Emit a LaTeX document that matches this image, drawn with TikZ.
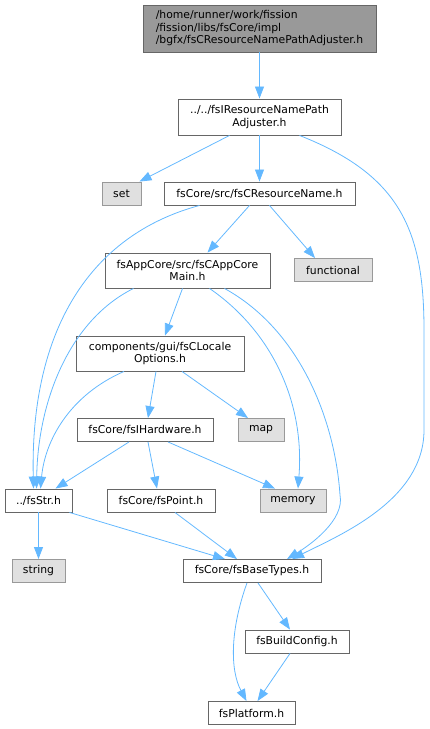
\documentclass[tikz,border=0pt]{standalone}
\usepackage{fontspec}
\setsansfont{DejaVu Sans}
\usetikzlibrary{arrows.meta}

\definecolor{edgeblue}{HTML}{63B8FF}
\definecolor{boxline}{HTML}{666666}
\definecolor{sysline}{HTML}{999999}
\definecolor{sysfill}{HTML}{E0E0E0}
\definecolor{topfill}{HTML}{999999}

\begin{document}
\begin{tikzpicture}[x=1pt, y=-1pt,
    file/.style={draw=boxline, fill=white, line width=0.9pt, inner sep=0pt, minimum height=23, align=center,
                 font=\sffamily\fontsize{10.8}{12.5}\selectfont},
    sysfile/.style={file, draw=sysline, fill=sysfill},
    dep/.style={draw=edgeblue, line width=0.8pt, -{Triangle[length=12pt, width=9pt]}}]
    \useasboundingbox (0,0) rectangle (429,729);

    % files
    \node[file, fill=topfill, minimum width=233, minimum height=47, align=left] (top) at (259.5,28.5)
        {/home/runner/work/fission\\/fission/libs/fsCore/impl\\/bgfx/fsCResourceNamePathAdjuster.h};
    \node[file, minimum width=163, minimum height=36] (adj) at (259.5,117) {../../fsIResourceNamePath\\Adjuster.h};
    \node[sysfile, minimum width=39] (set) at (121.5,193.5) {set};
    \node[file, minimum width=191] (resname) at (259.5,193.5) {fsCore/src/fsCResourceName.h};
    \node[file, minimum width=165, minimum height=35] (main) at (187.5,270.5) {fsAppCore/src/fsCAppCore\\Main.h};
    \node[sysfile, minimum width=78] (functional) at (333,270) {functional};
    \node[file, minimum width=168, minimum height=35] (locale) at (160,353.5) {components/gui/fsCLocale\\Options.h};
    \node[file, minimum width=136] (hw) at (145,430) {fsCore/fsIHardware.h};
    \node[sysfile, minimum width=46] (map) at (261,430) {map};
    \node[file, minimum width=67] (str) at (38.5,500.5) {../fsStr.h};
    \node[file, minimum width=108] (point) at (161,500.5) {fsCore/fsPoint.h};
    \node[sysfile, minimum width=66] (memory) at (293,500.5) {memory};
    \node[sysfile, minimum width=53] (string) at (38.5,571) {string};
    \node[file, minimum width=138] (base) at (252,571) {fsCore/fsBaseTypes.h};
    \node[file, minimum width=104] (build) at (297,641.5) {fsBuildConfig.h};
    \node[file, minimum width=87] (platform) at (251.5,713) {fsPlatform.h};

    % includes
    \draw[dep] (top) -- (adj);
    \draw[dep] ([xshift=-30]adj.south) -- ([xshift=18]set.north);
    \draw[dep] (adj) -- (resname);
    \draw[dep] ([xshift=40]adj.south) .. controls (400,175) and (424,230) .. (424,330)
        -- (424,430) .. controls (424,500) and (340,535) .. ([xshift=40]base.north);
    \draw[dep] ([xshift=-60]resname.south) .. controls (90,235) and (30,330) .. ([xshift=-5]str.north);
    \draw[dep] ([xshift=-10]resname.south) -- ([xshift=20]main.north);
    \draw[dep] ([xshift=10]resname.south) -- ([xshift=-18]functional.north);
    \draw[dep] ([xshift=-54]main.south) .. controls (70,320) and (38,400) .. ([xshift=-2]str.north);
    \draw[dep] ([xshift=-5]main.south) -- ([xshift=5]locale.north);
    \draw[dep] ([xshift=22]main.south) .. controls (270,330) and (305,400) .. ([xshift=5]memory.north);
    \draw[dep] ([xshift=37]main.south) .. controls (300,330) and (335,420) .. (340,495)
        .. controls (345,520) and (310,545) .. ([xshift=35]base.north);
    \draw[dep] ([xshift=-36]locale.south) .. controls (70,395) and (45,440) .. ([xshift=2]str.north);
    \draw[dep] ([xshift=-4]locale.south) -- ([xshift=3]hw.north);
    \draw[dep] ([xshift=22]locale.south) -- ([xshift=-13]map.north);
    \draw[dep] ([xshift=-16]hw.south) -- ([xshift=17]str.north);
    \draw[dep] ([xshift=3]hw.south) -- ([xshift=-4]point.north);
    \draw[dep] ([xshift=23]hw.south) -- ([xshift=-18]memory.north);
    \draw[dep] (str) -- (string);
    \draw[dep] ([xshift=31]str.south) -- ([xshift=-27]base.north);
    \draw[dep] ([xshift=14]point.south) -- ([xshift=-15]base.north);
    \draw[dep] ([xshift=6]base.south) -- ([xshift=-7]build.north);
    \draw[dep] ([xshift=-5]base.south) .. controls (230,630) and (230,670) .. ([xshift=-5]platform.north);
    \draw[dep] ([xshift=-7]build.south) -- ([xshift=6]platform.north);
\end{tikzpicture}
\end{document}
